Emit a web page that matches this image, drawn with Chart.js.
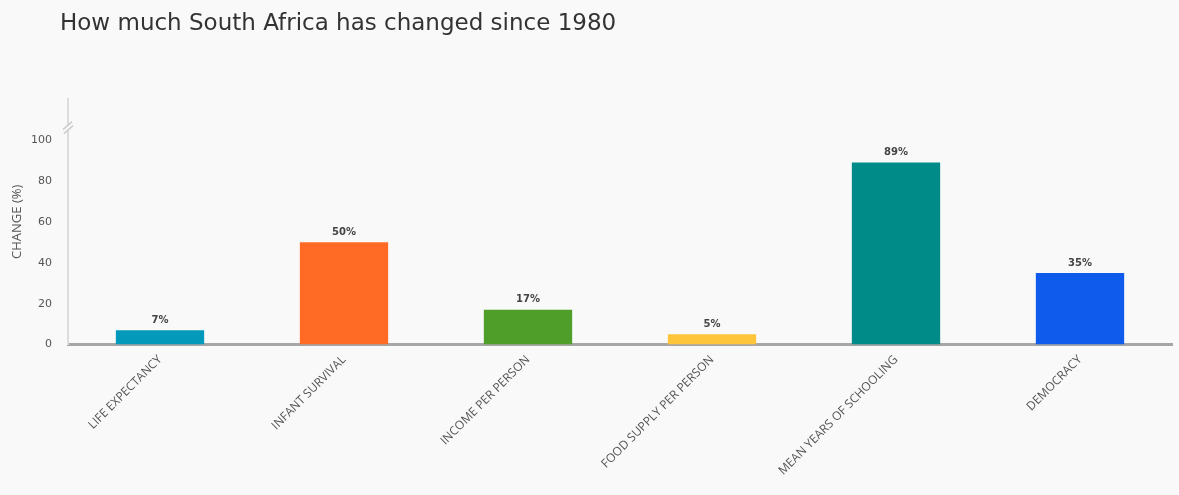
<!DOCTYPE html>
<html>
<head>
<meta charset="utf-8">
<script src="https://cdn.jsdelivr.net/npm/chart.js@4.4.0/dist/chart.umd.min.js"></script>
<style>
    html, body { margin: 0; padding: 0; background: #f9f9f9; }
    #wrap { position: relative; width: 1179px; height: 495px; }
    #title {
        position: absolute; left: 60px; top: 9px;
        font-family: "DejaVu Sans", sans-serif; font-size: 23px; color: #333;
    }
</style>
</head>
<body>
<div id="wrap">
    <div id="title">How much South Africa has changed since 1980</div>
    <canvas id="chart" width="1179" height="495"></canvas>
</div>
<script>
// Data
const categories = ["LIFE EXPECTANCY", "INFANT SURVIVAL", "INCOME PER PERSON", "FOOD SUPPLY PER PERSON", "MEAN YEARS OF SCHOOLING", "DEMOCRACY"];
const changes = [7, 50, 17, 5, 89, 35];
const barColors = ["#0399bb", "#ff6a25", "#509e2a", "#ffc53a", "#008b88", "#0f5beb"];
const yTicks = [0, 20, 40, 60, 80, 100];

// Draws the "7%" labels above each bar
const valueLabels = {
    id: "valueLabels",
    afterDatasetsDraw(chart) {
        const ctx = chart.ctx;
        const meta = chart.getDatasetMeta(0);
        ctx.save();
        ctx.font = "bold 10px 'DejaVu Sans', sans-serif";
        ctx.fillStyle = "#444";
        ctx.textAlign = "center";
        ctx.textBaseline = "bottom";
        meta.data.forEach((bar, i) => {
            ctx.fillText(changes[i] + "%", bar.x, bar.y - 5);
        });
        ctx.restore();
    }
};

// Axis break mark on the y axis above 100
const axisBreak = {
    id: "axisBreak",
    afterDraw(chart) {
        const ctx = chart.ctx;
        const y = chart.scales.y.getPixelForValue(106);
        const x = chart.chartArea.left;
        ctx.save();
        ctx.fillStyle = "#f9f9f9";
        ctx.fillRect(x - 3, y - 2, 6, 4);
        ctx.strokeStyle = "#ccc";
        ctx.lineWidth = 1.5;
        ctx.beginPath();
        ctx.moveTo(x - 5, y + 2); ctx.lineTo(x + 4, y - 6);
        ctx.moveTo(x - 4, y + 6); ctx.lineTo(x + 5, y - 2);
        ctx.stroke();
        ctx.restore();
    }
};

new Chart(document.getElementById("chart").getContext("2d"), {
    type: "bar",
    data: {
        labels: categories,
        datasets: [{
            data: changes,
            backgroundColor: barColors,
            barPercentage: 0.96,
            categoryPercentage: 0.5
        }]
    },
    options: {
        responsive: false,
        animation: false,
        layout: { padding: { top: 99, right: 7, left: 5, bottom: 17 } },
        plugins: {
            legend: { display: false },
            tooltip: { enabled: false }
        },
        scales: {
            x: {
                grid: { display: false },
                border: { display: true, color: "#a6a6a6", width: 3 },
                ticks: {
                    color: "#555",
                    font: { family: "'Open Sans', sans-serif", size: 12 },
                    minRotation: 45,
                    maxRotation: 45,
                    padding: 0
                }
            },
            y: {
                min: 0,
                max: 120,
                afterBuildTicks(axis) {
                    axis.ticks = yTicks.map(v => ({ value: v }));
                },
                afterFit(axis) {
                    axis.width = 63;
                },
                grid: { display: false, drawTicks: false },
                border: { display: true, color: "#dcdcdc", width: 2 },
                ticks: {
                    color: "#555",
                    font: { family: "'DejaVu Sans', sans-serif", size: 11 },
                    padding: 16
                },
                title: {
                    display: true,
                    text: "CHANGE (%)",
                    color: "#555",
                    font: { family: "'Open Sans', sans-serif", size: 13 },
                    padding: { top: 4, bottom: 0 }
                }
            }
        }
    },
    plugins: [valueLabels, axisBreak]
});
</script>
</body>
</html>
